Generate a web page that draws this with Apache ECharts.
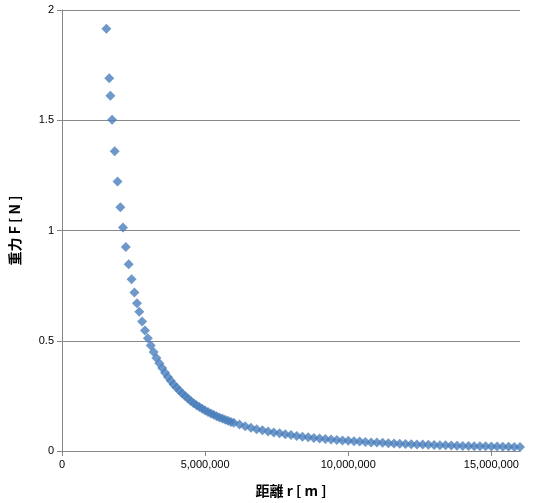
<!DOCTYPE html>
<html><head><meta charset="utf-8">
<script src="https://cdn.jsdelivr.net/npm/echarts@6/dist/echarts.min.js"></script>
<style>html,body{margin:0;padding:0;background:#fff}#c{width:534px;height:503px}</style>
</head><body><div id="c"></div>
<script>
const rMillions = [1.55,1.65,1.69,1.75,1.84,1.94,2.04,2.13,2.23,2.33,2.43,2.53,2.62,2.7,2.8,2.9,3.0,3.1,3.2,3.3,3.4,3.5,3.6,3.7,3.8,3.9,4.0,4.1,4.2,4.3,4.4,4.5,4.6,4.7,4.8,4.9,5.0,5.1,5.2,5.3,5.4,5.5,5.6,5.7,5.8,5.9,6.0,6.2,6.4,6.6,6.8,7.0,7.2,7.4,7.6,7.8,8.0,8.2,8.4,8.6,8.8,9.0,9.2,9.4,9.6,9.8,10.0,10.2,10.4,10.6,10.8,11.0,11.2,11.4,11.6,11.8,12.0,12.2,12.4,12.6,12.8,13.0,13.2,13.4,13.6,13.8,14.0,14.2,14.4,14.6,14.8,15.0,15.2,15.4,15.6,15.8,16.0];
const forceN = [1.915,1.690,1.611,1.502,1.359,1.222,1.105,1.014,0.925,0.847,0.779,0.719,0.670,0.631,0.587,0.547,0.511,0.479,0.449,0.422,0.398,0.376,0.355,0.336,0.319,0.302,0.288,0.274,0.261,0.249,0.238,0.227,0.217,0.208,0.200,0.192,0.184,0.177,0.170,0.164,0.158,0.152,0.147,0.142,0.137,0.132,0.128,0.120,0.112,0.106,0.099,0.094,0.089,0.084,0.080,0.076,0.072,0.068,0.065,0.062,0.059,0.057,0.054,0.052,0.050,0.048,0.046,0.044,0.043,0.041,0.039,0.038,0.037,0.035,0.034,0.033,0.032,0.031,0.030,0.029,0.028,0.027,0.026,0.026,0.025,0.024,0.023,0.023,0.022,0.022,0.021,0.020,0.020,0.019,0.019,0.018,0.018];
const data = rMillions.map((r,i)=>[r*1e6, forceN[i]]);
const chart = echarts.init(document.getElementById('c'));
chart.setOption({
  animation:false,
  grid:{left:62,right:14,top:10,bottom:52},
  xAxis:{type:'value',min:0,max:16000000,interval:5000000,
    name:'距離 r [ m ]',nameLocation:'middle',nameGap:33,
    nameTextStyle:{fontSize:14,fontWeight:'bold',color:'#000',fontFamily:'Noto Sans CJK JP'},
    axisLine:{lineStyle:{color:'#888'}},axisTick:{show:true,lineStyle:{color:'#888'}},
    axisLabel:{color:'#000',fontSize:11,showMaxLabel:false,fontFamily:'Liberation Sans'},splitLine:{show:false}},
  yAxis:{type:'value',min:0,max:2,interval:0.5,
    name:'重力 F [ N ]',nameLocation:'middle',nameGap:40,
    nameTextStyle:{fontSize:14,fontWeight:'bold',color:'#000',fontFamily:'Noto Sans CJK JP'},
    axisLine:{show:true,lineStyle:{color:'#888'}},axisTick:{show:true,lineStyle:{color:'#888'}},
    axisLabel:{color:'#000',fontSize:11,fontFamily:'Liberation Sans'},
    splitLine:{lineStyle:{color:'#888'}}},
  series:[{type:'scatter',symbol:'diamond',symbolSize:10,data:data,
    itemStyle:{color:'#4a7ebb'}}]
});
</script></body></html>
